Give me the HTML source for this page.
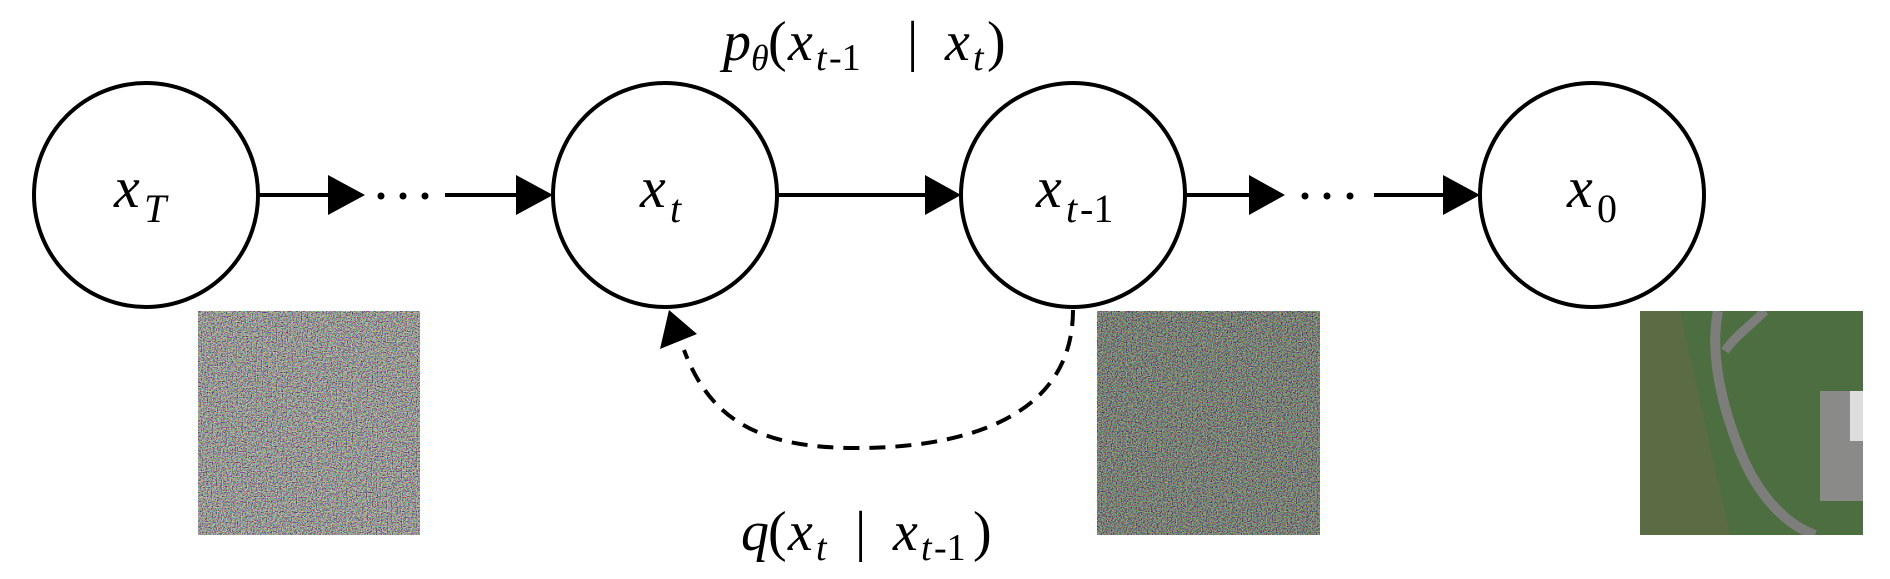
<!DOCTYPE html>
<html><head><meta charset="utf-8"><style>
html,body{margin:0;padding:0;background:#fff;}
svg{display:block;}
text{font-family:"Liberation Serif",serif;font-style:italic;fill:#000;}
.u{font-style:normal;}
</style></head><body>
<svg width="1890" height="579" viewBox="0 0 1890 579" xmlns="http://www.w3.org/2000/svg">
<defs>
<filter id="n1" x="0" y="0" width="100%" height="100%">
<feTurbulence type="fractalNoise" baseFrequency="0.8" numOctaves="1" seed="3"/>
<feColorMatrix type="matrix" values="4 0 0 0 -1.5  0 4 0 0 -1.5  0 0 4 0 -1.5  0 0 0 0 1"/>
</filter>
<filter id="n2" x="0" y="0" width="100%" height="100%">
<feTurbulence type="fractalNoise" baseFrequency="0.8" numOctaves="1" seed="7"/>
<feColorMatrix type="matrix" values="4 0 0 0 -1.6  0 4 0 0 -1.55  0 0 4 0 -1.6  0 0 0 0 1"/>
</filter>
</defs>
<g fill="#fff" stroke="#000" stroke-width="4">
<circle cx="146" cy="195" r="112"/>
<circle cx="665" cy="195" r="112"/>
<circle cx="1073" cy="195" r="112"/>
<circle cx="1592" cy="195" r="112"/>
</g>
<g stroke="#000" stroke-width="4">
<line x1="258" y1="195" x2="330" y2="195"/>
<line x1="445" y1="195" x2="518" y2="195"/>
<line x1="777" y1="195" x2="930" y2="195"/>
<line x1="1185" y1="195" x2="1252" y2="195"/>
<line x1="1374" y1="195" x2="1444" y2="195"/>
</g>
<g fill="#000">
<polygon points="328,175 365,195 328,215"/>
<polygon points="516,175 553,195 516,215"/>
<polygon points="925,175 961,195 925,215"/>
<polygon points="1249,175 1285,195 1249,215"/>
<polygon points="1443,175 1480,195 1443,215"/>
<circle cx="381" cy="196" r="3.5"/><circle cx="403" cy="196" r="3.5"/><circle cx="425" cy="196" r="3.5"/>
<circle cx="1305" cy="196" r="3.5"/><circle cx="1327" cy="196" r="3.5"/><circle cx="1350" cy="196" r="3.5"/>
<polygon points="669,310 660,349 697,334"/>
</g>
<path d="M1073,310 C1073,420 960,448 856,448 C760,448 710,420 684,350" fill="none" stroke="#000" stroke-width="4" stroke-dasharray="16,10"/>
<rect x="198" y="311" width="222" height="224" fill="#7a7a74"/>
<rect x="198" y="311" width="222" height="224" filter="url(#n1)" opacity="0.6"/>
<rect x="1097" y="311" width="223" height="224" fill="#5a5d55"/>
<rect x="1097" y="311" width="223" height="224" filter="url(#n2)" opacity="0.5"/>
<svg x="1640" y="311" width="223" height="224" viewBox="0 0 223 224">
<rect width="223" height="224" fill="#4d6e40"/>
<path d="M0,0 L40,0 L90,224 L0,224Z" fill="#6a6a48" opacity="0.5"/>
<path d="M78,0 C70,40 80,90 100,140 C120,190 150,215 175,224" fill="none" stroke="#7d7e7c" stroke-width="10"/>
<path d="M125,0 C110,15 95,25 85,40" fill="none" stroke="#7d7e7c" stroke-width="9"/>
<rect x="180" y="80" width="43" height="110" fill="#8a8a88"/>
<rect x="210" y="80" width="13" height="50" fill="#ddd"/>
</svg>
<text x="114" y="207" font-size="58">x</text><text x="144" y="222" font-size="40">T</text>
<text x="640" y="207" font-size="58">x</text><text x="670" y="222" font-size="40">t</text>
<text x="1036" y="207" font-size="58">x</text><text x="1066" y="222" font-size="40">t</text><text x="1080" y="222" font-size="40" class="u">-1</text>
<text x="1567" y="207" font-size="58">x</text><text x="1597" y="222" font-size="40" class="u">0</text>
<text x="723" y="60" font-size="56">p</text><text x="751" y="70" font-size="36">θ</text>
<text x="768" y="60" font-size="56" class="u">(</text><text x="788" y="60" font-size="56">x</text><text x="816" y="70" font-size="38">t</text><text x="829" y="70" font-size="38" class="u">-1</text>
<text x="907" y="60" font-size="56" class="u">|</text>
<text x="945" y="60" font-size="56">x</text><text x="973" y="70" font-size="38">t</text><text x="987" y="60" font-size="56" class="u">)</text>
<text x="741" y="550" font-size="56">q</text><text x="768" y="550" font-size="56" class="u">(</text>
<text x="788" y="550" font-size="56">x</text><text x="816" y="560" font-size="38">t</text>
<text x="855" y="550" font-size="56" class="u">|</text>
<text x="893" y="550" font-size="56">x</text><text x="921" y="560" font-size="38">t</text><text x="934" y="560" font-size="38" class="u">-1</text><text x="973" y="550" font-size="56" class="u">)</text>
</svg>
</body></html>
